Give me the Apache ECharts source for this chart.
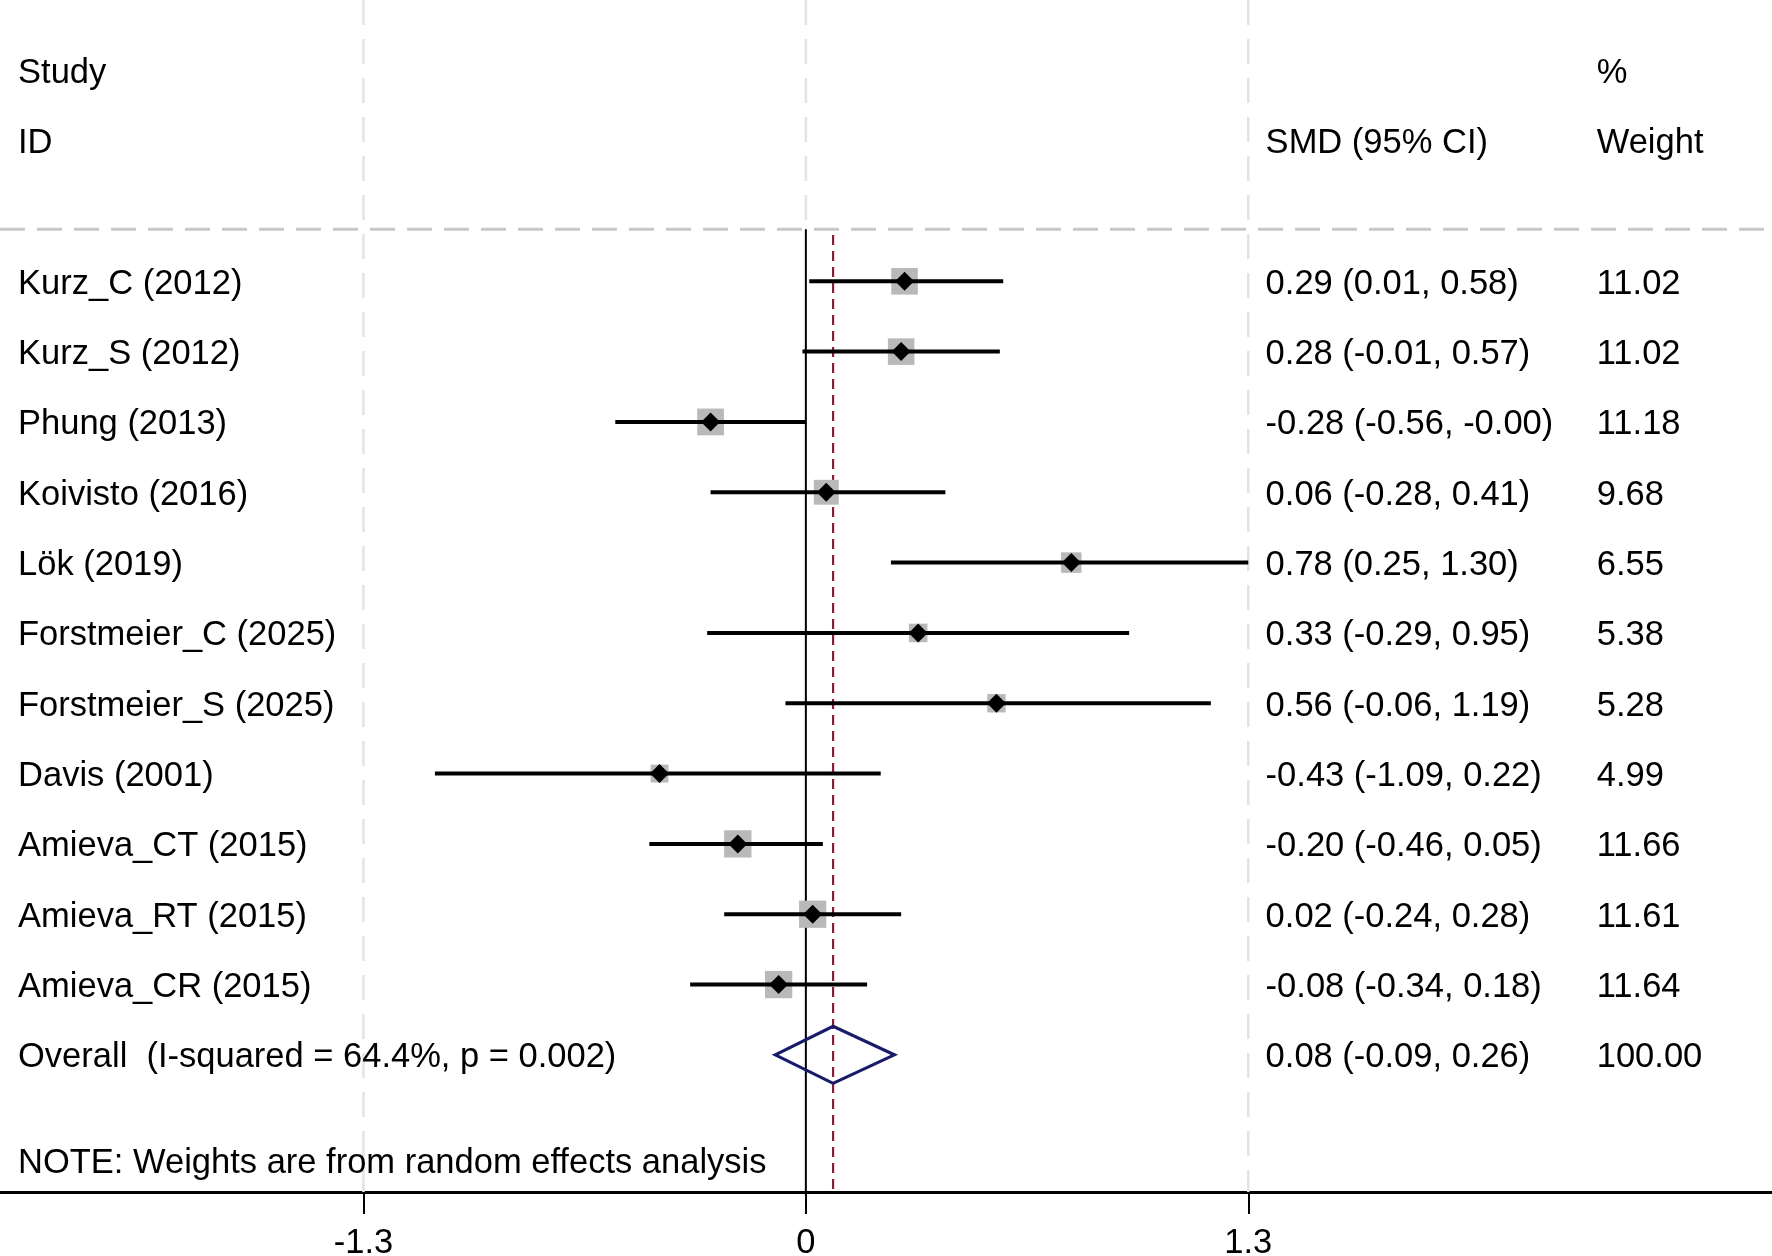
<!DOCTYPE html>
<html><head><meta charset="utf-8">
<script src="https://cdn.jsdelivr.net/npm/echarts@6/dist/echarts.min.js"></script>
<style>html,body{margin:0;padding:0;background:#fff}#c{width:1772px;height:1256px}</style>
</head><body><div id="c"></div>
<script>
// ---- data ----
const studies = ['Kurz_C (2012)','Kurz_S (2012)','Phung (2013)','Koivisto (2016)','Lök (2019)','Forstmeier_C (2025)','Forstmeier_S (2025)','Davis (2001)','Amieva_CT (2015)','Amieva_RT (2015)','Amieva_CR (2015)'];
const smd     = [0.29, 0.28, -0.28, 0.06, 0.78, 0.33, 0.56, -0.43, -0.20, 0.02, -0.08];
const ciLow   = [0.01, -0.01, -0.56, -0.28, 0.25, -0.29, -0.06, -1.09, -0.46, -0.24, -0.34];
const ciHigh  = [0.58, 0.57, -0.00, 0.41, 1.30, 0.95, 1.19, 0.22, 0.05, 0.28, 0.18];
const weights = [11.02, 11.02, 11.18, 9.68, 6.55, 5.38, 5.28, 4.99, 11.66, 11.61, 11.64];
const ciText  = ['0.29 (0.01, 0.58)','0.28 (-0.01, 0.57)','-0.28 (-0.56, -0.00)','0.06 (-0.28, 0.41)','0.78 (0.25, 1.30)','0.33 (-0.29, 0.95)','0.56 (-0.06, 1.19)','-0.43 (-1.09, 0.22)','-0.20 (-0.46, 0.05)','0.02 (-0.24, 0.28)','-0.08 (-0.34, 0.18)'];
const weightText = ['11.02','11.02','11.18','9.68','6.55','5.38','5.28','4.99','11.66','11.61','11.64'];
const overallLabel = 'Overall  (I-squared = 64.4%, p = 0.002)';
const overallEst = 0.08, overallLow = -0.09, overallHigh = 0.26;
const overallText = '0.08 (-0.09, 0.26)';
const overallWeight = '100.00';
const noteText = 'NOTE: Weights are from random effects analysis';
const headerLeft = ['Study', 'ID'];
const headerCI = 'SMD (95% CI)';
const headerWeight = ['%', 'Weight'];
const tickValues = [-1.3, 0, 1.3];
const tickLabels = ['-1.3', '0', '1.3'];

// ---- layout ----
const X_MIN = -2.368, X_MAX = 2.839;
const Y_MIN = -4, Y_MAX = 12.95;
const COL_STUDY = -2.315, COL_CI = 1.351, COL_W = 2.324;
const HEADER_ROW = -0.74;
const OVERALL_ROW = studies.length;
const NOTE_ROW = 12.5;
const FONT = "'Liberation Sans', Arial, Helvetica, sans-serif";
const FS = 34.5;
const TEXT_DY = 3;

const textItems = [];
textItems.push([COL_STUDY, -3, headerLeft[0]]);
textItems.push([COL_STUDY, -2, headerLeft[1]]);
textItems.push([COL_CI, -2, headerCI]);
textItems.push([COL_W, -3, headerWeight[0]]);
textItems.push([COL_W, -2, headerWeight[1]]);
studies.forEach((s, i) => {
  textItems.push([COL_STUDY, i, s]);
  textItems.push([COL_CI, i, ciText[i]]);
  textItems.push([COL_W, i, weightText[i]]);
});
textItems.push([COL_STUDY, OVERALL_ROW, overallLabel]);
textItems.push([COL_CI, OVERALL_ROW, overallText]);
textItems.push([COL_W, OVERALL_ROW, overallWeight]);
textItems.push([COL_STUDY, NOTE_ROW, noteText]);

const chart = echarts.init(document.getElementById('c'), null, {renderer: 'canvas'});

const option = {
  backgroundColor: '#fff',
  animation: false,
  grid: {left: 0, right: 0, top: 0, bottom: 64, containLabel: false, outerBoundsMode: 'none'},
  xAxis: {
    type: 'value', min: X_MIN, max: X_MAX,
    splitLine: {show: false},
    axisLine: {show: true, onZero: false, lineStyle: {color: '#000', width: 3}},
    axisTick: {show: true, customValues: tickValues, length: 22, lineStyle: {color: '#000', width: 2}},
    axisLabel: {show: true, customValues: tickValues, margin: 34, fontSize: FS, fontFamily: FONT, color: '#000',
      formatter: v => { const i = tickValues.findIndex(t => Math.abs(t - v) < 1e-6); return i >= 0 ? tickLabels[i] : ''; }}
  },
  yAxis: {type: 'value', inverse: true, min: Y_MIN, max: Y_MAX, show: false},
  series: [
    { // vertical gridlines
      type: 'custom', z: 1, silent: true,
      data: tickValues.map(v => [v]),
      renderItem: (params, api) => {
        const v = api.value(0);
        const top = api.coord([v, Y_MIN]);
        const bot = api.coord([v, v === 0 ? HEADER_ROW : Y_MAX]);
        return {type: 'line', shape: {x1: top[0], y1: top[1], x2: bot[0], y2: bot[1]},
          style: {stroke: '#e3e3e3', lineWidth: 2.5, lineDash: [25, 14]}};
      }
    },
    { // header separator
      type: 'custom', z: 2, silent: true,
      data: [[HEADER_ROW]],
      renderItem: (params, api) => {
        const a = api.coord([X_MIN, api.value(0)]);
        const b = api.coord([X_MAX, api.value(0)]);
        return {type: 'line', shape: {x1: a[0], y1: a[1], x2: b[0], y2: b[1]},
          style: {stroke: '#c8c8c8', lineWidth: 3, lineDash: [25, 12]}};
      }
    },
    { // zero line
      type: 'custom', z: 3, silent: true,
      data: [[0]],
      renderItem: (params, api) => {
        const a = api.coord([api.value(0), HEADER_ROW]);
        const b = api.coord([api.value(0), Y_MAX]);
        return {type: 'line', shape: {x1: a[0], y1: a[1], x2: b[0], y2: b[1]},
          style: {stroke: '#000', lineWidth: 2}};
      }
    },
    { // overall effect line
      type: 'custom', z: 4, silent: true,
      data: [[overallEst]],
      renderItem: (params, api) => {
        const a = api.coord([api.value(0), HEADER_ROW + 0.08]);
        const b = api.coord([api.value(0), Y_MAX]);
        return {type: 'line', shape: {x1: a[0], y1: a[1], x2: b[0], y2: b[1]},
          style: {stroke: '#8f1d2f', lineWidth: 2.2, lineDash: [10, 6]}};
      }
    },
    { // studies
      type: 'custom', z: 5, silent: true,
      data: studies.map((s, i) => [smd[i], ciLow[i], ciHigh[i], weights[i], i]),
      renderItem: (params, api) => {
        const est = api.value(0), lo = api.value(1), hi = api.value(2), w = api.value(3), row = api.value(4);
        const c = api.coord([est, row]);
        const l = api.coord([lo, row]);
        const h = api.coord([hi, row]);
        const side = Math.sqrt(w) * 8;
        const d = 9.5;
        return {type: 'group', children: [
          {type: 'rect', shape: {x: c[0] - side / 2, y: c[1] - side / 2, width: side, height: side},
            style: {fill: '#b9b9b9'}},
          {type: 'line', shape: {x1: l[0], y1: l[1], x2: h[0], y2: h[1]},
            style: {stroke: '#000', lineWidth: 4}},
          {type: 'polygon', shape: {points: [[c[0] - d, c[1]], [c[0], c[1] - d], [c[0] + d, c[1]], [c[0], c[1] + d]]},
            style: {fill: '#000'}}
        ]};
      }
    },
    { // overall diamond
      type: 'custom', z: 6, silent: true,
      data: [[overallEst, overallLow, overallHigh, OVERALL_ROW]],
      renderItem: (params, api) => {
        const est = api.value(0), lo = api.value(1), hi = api.value(2), row = api.value(3);
        const pL = api.coord([lo, row]), pR = api.coord([hi, row]);
        const pT = api.coord([est, row - 0.405]), pB = api.coord([est, row + 0.405]);
        return {type: 'polygon', shape: {points: [pL, pT, pR, pB]},
          style: {fill: 'none', stroke: '#1a1a6b', lineWidth: 3.2}};
      }
    },
    { // texts
      type: 'custom', z: 7, silent: true,
      data: textItems.map(t => [t[0], t[1]]),
      renderItem: (params, api) => {
        const p = api.coord([api.value(0), api.value(1)]);
        return {type: 'text', x: p[0], y: p[1] + TEXT_DY,
          style: {text: textItems[params.dataIndex][2], fill: '#000', fontSize: FS, fontFamily: FONT,
            align: 'left', verticalAlign: 'middle'}};
      }
    }
  ]
};
chart.setOption(option);
</script></body></html>
